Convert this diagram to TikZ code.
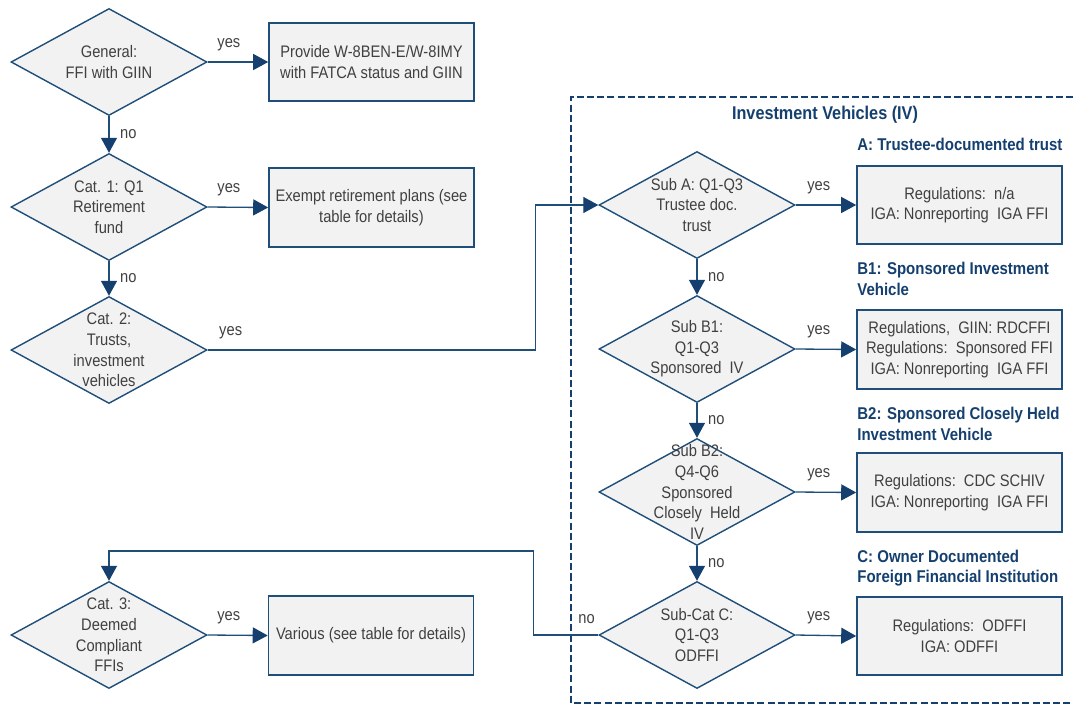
\documentclass[tikz,border=0pt]{standalone}
\usepackage{fontspec}
\setmainfont{Liberation Sans}[FakeStretch=0.88]
\usepackage{tikz}
\tikzset{>=latex}
\usetikzlibrary{arrows.meta}
\usetikzlibrary{shapes.geometric}
\definecolor{ivblue}{HTML}{1F4E79}
\definecolor{ivdark}{HTML}{143F6E}
\definecolor{ivgrey}{HTML}{404040}
\definecolor{ivfill}{HTML}{F2F2F2}
\tikzset{
  decision/.style={diamond, draw=ivblue, fill=ivfill, line width=0.8pt,
    minimum width=3.92cm, minimum height=2.14cm, inner sep=0pt},
  qtext/.style={align=center, text=ivgrey, inner sep=0pt,
    font=\fontsize{9.5}{11.7}\selectfont},
  result/.style={rectangle, draw=ivblue, fill=ivfill, line width=0.9pt,
    minimum width=4.1cm, minimum height=1.57cm, align=center, text=ivgrey,
    font=\fontsize{9.5}{11.7}\selectfont},
  flow/.style={draw=ivblue, line width=0.75pt,
    -{Triangle[length=3mm,width=3.2mm,color=ivdark]}},
  ans/.style={text=ivgrey, inner sep=1pt, font=\fontsize{9.5}{11}\selectfont},
  head/.style={anchor=west, align=left, text=ivdark, inner sep=0pt,
    font=\bfseries\fontsize{9.7}{11.7}\selectfont},
  ivbox/.style={draw=ivdark, line width=1pt, dash pattern=on 4pt off 1.8pt}
}

\begin{document}
\begin{tikzpicture}[x=0.2mm,y=-0.2mm]
	\useasboundingbox (0,0) rectangle (1073,706);

	% left column
	\node[decision] (gen) at (109,62) {};
	\node[qtext] (gentxt) at (gen) {General:\\FFI with GIIN};
	\node[result] (prov) at (371.5,62) {Provide W-8BEN-E/W-8IMY\\with FATCA status and GIIN};

	\node[decision] (cat1) at (109,207) {};
	\node[qtext] (cat1txt) at (cat1) {Cat. 1: Q1\\Retirement\\fund};
	\node[result] (exempt) at (371.5,207.5) {Exempt retirement plans (see\\table for details)};

	\node[decision] (cat2) at (109,350) {};
	\node[qtext] (cat2txt) at (cat2) {Cat. 2:\\Trusts,\\investment\\vehicles};

	\node[decision] (cat3) at (109,635) {};
	\node[qtext] (cat3txt) at (cat3) {Cat. 3:\\Deemed\\Compliant\\FFIs};
	\node[result] (various) at (371,635.5) {Various (see table for details)};

	% investment vehicles
	\draw[ivbox] (1073,97) -| (571,703) -- (1073,703);
	\node[head, anchor=center, font=\bfseries\fontsize{10.5}{12}\selectfont] (ivtitle) at (825,115) {Investment Vehicles (IV)};

	\node[decision] (subA) at (697,205) {};
	\node[qtext] (subAtxt) at (subA) {Sub A: Q1-Q3\\Trustee doc.\\trust};
	\node[head] (headA) at (857,144) {A: Trustee-documented trust};
	\node[result] (boxA) at (959.5,205) {Regulations:\ \ n/a\\IGA: Nonreporting\ \ IGA FFI};

	\node[decision] (subB1) at (697,349) {};
	\node[qtext] (subB1txt) at (subB1) {Sub B1:\\Q1-Q3\\Sponsored\ \ IV};
	\node[head] (headB1) at (857,279) {B1: Sponsored Investment\\Vehicle};
	\node[result] (boxB1) at (959.5,349.5) {Regulations,\ \ GIIN: RDCFFI\\Regulations:\ \ Sponsored FFI\\IGA: Nonreporting\ \ IGA FFI};

	\node[decision] (subB2) at (697,492) {};
	\node[qtext] (subB2txt) at (subB2) {Sub B2:\\Q4-Q6\\Sponsored\\Closely\ \ Held\\IV};
	\node[head] (headB2) at (857,424) {B2: Sponsored Closely Held\\Investment Vehicle};
	\node[result] (boxB2) at (959.5,492.5) {Regulations:\ \ CDC SCHIV\\IGA: Nonreporting\ \ IGA FFI};

	\node[decision] (subC) at (697,635) {};
	\node[qtext] (subCtxt) at (subC) {Sub-Cat C:\\Q1-Q3\\ODFFI};
	\node[head] (headC) at (857,568) {C: Owner Documented\\Foreign Financial Institution};
	\node[result] (boxC) at (959.5,636) {Regulations:\ \ ODFFI\\IGA: ODFFI};

	% connectors
	\draw[flow] (gen.east) -- node[ans, pos=.35, above=5pt] {yes} (prov.west);
	\draw[flow] (gen.south) -- node[ans, right=5pt] {no} (cat1.north);
	\draw[flow] (cat1.east) -- node[ans, pos=.35, above=5pt] {yes} (exempt.west);
	\draw[flow] (cat1.south) -- node[ans, right=5pt] {no} (cat2.north);
	\draw[flow] (cat2.east) -- node[ans, pos=.07, above=5pt] {yes} ++(328,0) |- (subA.west);
	\draw[flow] (cat3.east) -- node[ans, pos=.35, above=5pt] {yes} (various.west);

	\draw[flow] (subA.east) -- node[ans, pos=.38, above=5pt] {yes} (boxA.west);
	\draw[flow] (subA.south) -- node[ans, right=5pt] {no} (subB1.north);
	\draw[flow] (subB1.east) -- node[ans, pos=.38, above=5pt] {yes} (boxB1.west);
	\draw[flow] (subB1.south) -- node[ans, right=5pt] {no} (subB2.north);
	\draw[flow] (subB2.east) -- node[ans, pos=.38, above=5pt] {yes} (boxB2.west);
	\draw[flow] (subB2.south) -- node[ans, right=5pt] {no} (subC.north);
	\draw[flow] (subC.east) -- node[ans, pos=.38, above=5pt] {yes} (boxC.west);
	\draw[flow] (subC.west) -- node[ans, pos=.18, above=5pt] {no} ++(-65,0) -- ++(0,-84) -| (cat3.north);
\end{tikzpicture}
\end{document}
